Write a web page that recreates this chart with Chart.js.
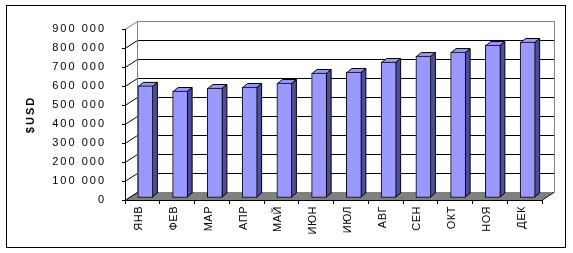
<!DOCTYPE html>
<html>
<head>
<meta charset="utf-8">
<script src="https://cdn.jsdelivr.net/npm/chart.js@4.4.0/dist/chart.umd.min.js"></script>
<style>
  html, body { margin: 0; padding: 0; background: #fff; }
  canvas { display: block; }
</style>
</head>
<body>
<canvas id="salesChart" width="573" height="253"></canvas>
<script>
// data
const months = ['ЯНВ', 'ФЕВ', 'МАР', 'АПР', 'МАЙ', 'ИЮН', 'ИЮЛ', 'АВГ', 'СЕН', 'ОКТ', 'НОЯ', 'ДЕК'];
const sales = [590000, 563000, 579000, 584000, 605000, 658000, 663000, 716000, 747000, 768000, 805000, 821000];
const yTicks = [0, 100000, 200000, 300000, 400000, 500000, 600000, 700000, 800000, 900000];
const yTitle = '$USD';

// 3D look: depth of the back wall and of the bars
const wallDX = 12, wallDY = -8;
const barShiftX = 3, barShiftY = -2;
const barDX = 5, barDY = -4;

function fmt(v) {
    return String(v).replace(/\B(?=(\d{3})+(?!\d))/g, ' ');
}

// frame, back wall, floor and grid on the wall
const wallPlugin = {
    id: 'wall',
    beforeDraw(chart) {
        const ctx = chart.ctx;
        const a = chart.chartArea;
        const ys = chart.scales.y;
        ctx.save();
        ctx.fillStyle = '#fff';
        ctx.fillRect(0, 0, chart.width, chart.height);
        ctx.strokeStyle = '#000';
        ctx.lineWidth = 1;
        ctx.strokeRect(6.5, 5.5, 559, 242);

        const yTop = ys.getPixelForValue(yTicks[yTicks.length - 1]);
        const y0 = ys.getPixelForValue(0);
        const bl = a.left + wallDX, br = a.right + wallDX;

        // floor
        ctx.fillStyle = '#808080';
        ctx.beginPath();
        ctx.moveTo(a.left, y0);
        ctx.lineTo(a.right, y0);
        ctx.lineTo(br, y0 + wallDY);
        ctx.lineTo(bl, y0 + wallDY);
        ctx.closePath();
        ctx.fill();
        ctx.strokeStyle = '#000';
        ctx.beginPath();
        ctx.moveTo(a.right + 0.5, y0);
        ctx.lineTo(br + 0.5, y0 + wallDY);
        ctx.stroke();

        // gridlines: side-wall diagonal + back wall line
        yTicks.forEach((v, i) => {
            const y = Math.round(ys.getPixelForValue(v)) + 0.5;
            const last = i === yTicks.length - 1;
            ctx.strokeStyle = last ? '#808080' : '#000';
            ctx.beginPath();
            ctx.moveTo(a.left, y);
            ctx.lineTo(bl + 0.5, y + wallDY);
            if (v !== 0) ctx.lineTo(br + 0.5, y + wallDY);
            ctx.stroke();
        });

        // wall edges
        ctx.strokeStyle = '#808080';
        ctx.beginPath();
        ctx.moveTo(bl + 0.5, Math.round(yTop) + wallDY + 0.5);
        ctx.lineTo(bl + 0.5, y0 + wallDY);
        ctx.moveTo(br + 0.5, Math.round(yTop) + wallDY + 0.5);
        ctx.lineTo(br + 0.5, y0 + wallDY);
        ctx.stroke();
        ctx.restore();

        // x labels are drawn before the bars, slight letter spacing
        ctx.letterSpacing = '0.5px';
    },
    beforeDatasetsDraw(chart) {
        const ctx = chart.ctx;
        ctx.save();
        ctx.translate(barShiftX, barShiftY);
        const meta = chart.getDatasetMeta(0);
        meta.data.forEach(bar => {
            const l = bar.x - bar.width / 2, r = bar.x + bar.width / 2;
            const t = bar.y, b = bar.base;
            ctx.lineWidth = 1;
            ctx.strokeStyle = '#000';
            // side face
            ctx.fillStyle = '#4d4d99';
            ctx.beginPath();
            ctx.moveTo(r - 0.5, t + 0.5);
            ctx.lineTo(r - 0.5 + barDX, t + 0.5 + barDY);
            ctx.lineTo(r - 0.5 + barDX, b - 0.5 + barDY);
            ctx.lineTo(r - 0.5, b - 0.5);
            ctx.closePath();
            ctx.fill();
            ctx.stroke();
            // top face
            ctx.fillStyle = '#9999ff';
            ctx.beginPath();
            ctx.moveTo(l + 0.5, t + 0.5);
            ctx.lineTo(l + 0.5 + barDX, t + 0.5 + barDY);
            ctx.lineTo(r - 0.5 + barDX, t + 0.5 + barDY);
            ctx.lineTo(r - 0.5, t + 0.5);
            ctx.closePath();
            ctx.fill();
            ctx.stroke();
        });
    },
    afterDatasetsDraw(chart) {
        chart.ctx.restore();
        // y labels come after the bars (z: 1), wider spacing
        chart.ctx.letterSpacing = '2px';
    }
};

const chart = new Chart(document.getElementById('salesChart'), {
    type: 'bar',
    data: {
        labels: months,
        datasets: [{
            data: sales,
            backgroundColor: '#9999ff',
            borderColor: '#000',
            borderWidth: 1,
            borderSkipped: false,
            barThickness: 15
        }]
    },
    options: {
        responsive: false,
        devicePixelRatio: 1,
        animation: false,
        layout: { padding: { left: 0, top: 29, right: 31, bottom: 0 } },
        plugins: {
            legend: { display: false },
            tooltip: { enabled: false }
        },
        scales: {
            x: {
                afterFit(scale) { scale.height = 53; },
                grid: { offset: true, drawOnChartArea: false, tickLength: 4, color: '#000' },
                border: { display: true, color: '#000' },
                ticks: {
                    color: '#000',
                    font: { family: 'Liberation Sans', size: 11 },
                    minRotation: 90,
                    maxRotation: 90,
                    padding: 2,
                    labelOffset: -3,
                    autoSkip: false
                }
            },
            y: {
                min: 0,
                max: 900000,
                afterFit(scale) { scale.width = 125; },
                afterBuildTicks(scale) { scale.ticks = yTicks.map(v => ({ value: v })); },
                grid: { drawOnChartArea: false, tickLength: 3, color: '#000', z: 1 },
                border: { display: true, color: '#000', z: 1 },
                ticks: {
                    z: 1,
                    color: '#000',
                    padding: 16,
                    font: { family: 'Liberation Sans', size: 11 },
                    callback: v => fmt(v)
                },
                title: {
                    display: true,
                    text: yTitle,
                    color: '#000',
                    font: { family: 'Liberation Sans', size: 11, weight: 'bold' },
                    padding: { top: 24, bottom: 0 }
                }
            }
        }
    },
    plugins: [wallPlugin]
});
</script>
</body>
</html>
